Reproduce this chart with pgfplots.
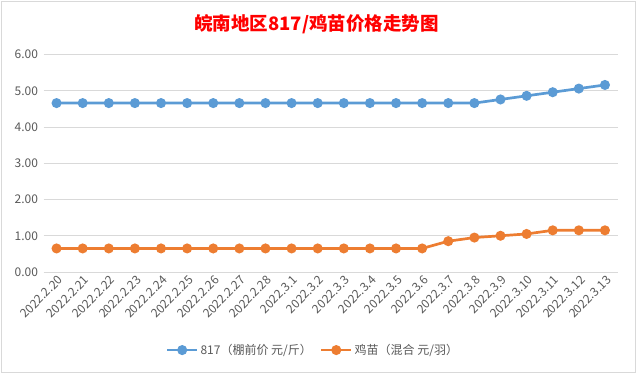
\documentclass[border=0pt]{standalone}
\usepackage{fontspec}
\setmainfont{Noto Sans CJK SC}
\usepackage{pgfplots}
\pgfplotsset{compat=1.18}
\definecolor{cblue}{HTML}{5B9BD5}
\definecolor{corange}{HTML}{ED7D31}
\definecolor{gridc}{HTML}{D9D9D9}
\definecolor{tickc}{HTML}{595959}
\begin{document}
\begin{tikzpicture}
\path (0pt,0pt) rectangle (636pt,373pt);
\draw[gridc, line width=0.8pt] (1pt,1pt) rectangle (635pt,372pt);
\node[text=red, font=\fontsize{18.5}{20}\selectfont\bfseries] at (316.5pt,349pt) {皖南地区817/鸡苗价格走势图};
\begin{axis}[
  at={(43.5pt,101pt)}, anchor=south west,
  scale only axis, width=574.5pt, height=217.5pt,
  xmin=-0.5, xmax=21.5, ymin=0, ymax=6,
  ytick={0,1,...,6},
  xtick={0,1,...,21},
  xticklabels={2022.2.20,2022.2.21,2022.2.22,2022.2.23,2022.2.24,2022.2.25,2022.2.26,2022.2.27,2022.2.28,2022.3.1,2022.3.2,2022.3.3,2022.3.4,2022.3.5,2022.3.6,2022.3.7,2022.3.8,2022.3.9,2022.3.10,2022.3.11,2022.3.12,2022.3.13},
  axis line style={draw=none},
  major tick length=0pt,
  ymajorgrids, grid style={gridc, line width=0.75pt},
  /pgf/number format/assume math mode=true,
  yticklabel style={/pgf/number format/fixed, /pgf/number format/fixed zerofill, /pgf/number format/precision=2, font=\fontsize{12}{14}\selectfont, text=tickc, xshift=-2pt},
  xticklabel style={rotate=45, anchor=east, font=\fontsize{12}{14}\selectfont, text=tickc, xshift=2pt, yshift=-7pt},
  legend style={at={(0.469,-0.359)}, anchor=center, draw=none, legend columns=2, font=\fontsize{12}{14}\selectfont, text=tickc, /tikz/every even column/.append style={column sep=6pt}},
  legend image code/.code={\draw[mark repeat=2,mark phase=2] plot coordinates {(0pt,0pt)(15pt,0pt)(30pt,0pt)};},
  every axis plot/.append style={line width=2.7pt, mark=*, mark size=3.6pt},
]
\addplot[cblue, mark options={fill=cblue, draw=cblue}] coordinates {
(0,4.66)(1,4.66)(2,4.66)(3,4.66)(4,4.66)(5,4.66)(6,4.66)(7,4.66)(8,4.66)(9,4.66)(10,4.66)
(11,4.66)(12,4.66)(13,4.66)(14,4.66)(15,4.66)(16,4.66)(17,4.76)(18,4.86)(19,4.96)(20,5.06)(21,5.16)};
\addlegendentry{817（棚前价 元/斤）}
\addplot[corange, mark options={fill=corange, draw=corange}] coordinates {
(0,0.65)(1,0.65)(2,0.65)(3,0.65)(4,0.65)(5,0.65)(6,0.65)(7,0.65)(8,0.65)(9,0.65)(10,0.65)
(11,0.65)(12,0.65)(13,0.65)(14,0.65)(15,0.85)(16,0.95)(17,1.0)(18,1.05)(19,1.15)(20,1.15)(21,1.15)};
\addlegendentry{鸡苗（混合 元/羽）}
\end{axis}
\end{tikzpicture}
\end{document}
